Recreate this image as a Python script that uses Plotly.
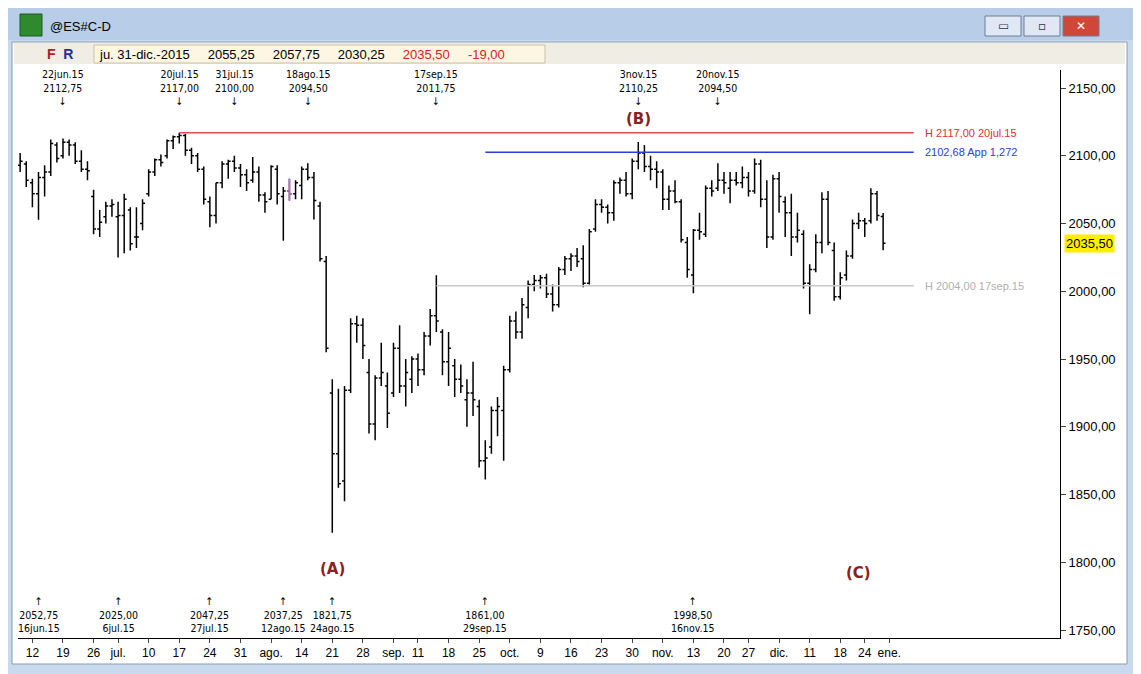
import pandas as pd
import plotly.graph_objects as go

# ES#C daily bars, 10 jun 2015 - 31 dic 2015
opens = [2080,2093,2094,2080,2072,2084,2088,2108,2100,2110,2108,2096,2090,2070,2046,
         2055,2063,2055,2056,2060,2040,2050,2072,2088,2097,2100,2111,2114,2115,2104,2100,2090,2066,2056,2080,2094,2096,
         2091,2086,2082,2088,2071,2068,2090,2070,2074,2072,2078,2090,2084,2063,2022,1925,1880,1860,1927,1976,1975,
         1940,1902,1936,1930,1925,1958,1930,1935,1950,1942,1967,1982,1970,1948,1945,1935,1920,1925,1915,1875,1885,
         1912,1912,1942,1978,1970,1988,2005,2008,2010,1998,1990,2016,2024,2026,2024,2006,2046,2064,2062,2058,2080,2082,
         2072,2096,2102,2092,2090,2088,2068,2074,2066,2036,2012,2045,2042,2076,2076,2082,2076,2082,2080,2084,
         2074,2094,2068,2040,2083,2066,2058,2040,2042,2006,2016,2036,2068,2030,1996,2012,2026,2050,2052,2052,2072,2055.25]
highs = [2097,2102,2096,2083,2088,2093,2112,2110,2112.75,2112,2110,2104,2096,2075,2060,
         2066,2068,2066,2072,2062,2062,2068,2090,2098,2101,2112,2115,2117,2116,2106,2102,2092,2070,2080,2096,2097,2100,
         2094,2090,2099,2092,2073,2093,2093,2077,2083,2082,2092,2094.5,2088,2066,2026,1935,1928,1930,1980,1982,1980,
         1950,1938,1962,1940,1962,1975,1950,1952,1954,1970,1987,2011.75,1972,1970,1950,1946,1935,1948,1920,1890,1915,
         1922,1945,1982,1985,1995,2008,2012,2012,2013,2005,2018,2026,2028,2032,2034,2046,2068,2068,2064,2082,2084,2088,
         2098,2110.25,2108,2100,2096,2090,2078,2082,2068,2040,2046,2058,2078,2082,2094.5,2088,2088,2088,2092,2088,
         2098,2097,2082,2086,2088,2070,2072,2058,2045,2020,2042,2073,2074,2036,2014,2030,2053,2058,2054,2076,2074,2057.75]
lows = [2075,2088,2077,2062,2052.75,2070,2085,2095,2098,2100,2094,2088,2082,2042,2040,
        2050,2055,2025,2028,2030,2032,2045,2070,2085,2092,2098,2105,2109,2100,2094,2088,2064,2047.25,2050,2076,2083,2088,
        2077,2074,2080,2066,2058,2068,2064,2037.25,2067,2068,2068,2082,2053,2022,1955,1821.75,1855,1845,1925,1962,1950,
        1895,1890,1930,1899,1922,1925,1915,1925,1930,1938,1960,1970,1938,1930,1922,1925,1900,1908,1870,1861,1880,
        1893,1875,1940,1965,1965,1980,2000,2002,1995,1985,1988,2012,2015,2018,2003,2005,2044,2058,2050,2052,2072,2070,
        2068,2090,2088,2082,2076,2060,2060,2065,2036,2010,1998.5,2038,2040,2070,2074,2072,2065,2078,2076,2070,
        2072,2062,2032,2038,2058,2040,2026,2036,2002,1983,2014,2028,2034,1993,1994,2008,2024,2046,2040,2050,2052,2030.25]
closes = [2093,2096,2082,2072,2084,2088,2109,2098,2110,2108,2096,2090,2089,2046,2051,
          2063,2064,2056,2068,2035,2040,2065,2088,2097,2095,2111,2114,2115,2104,2100,2090,2068,2056,2080,2094,2096,2091,
          2086,2080,2088,2071,2066,2092,2072,2074,2072,2080,2090,2084,2067,2024,1958,1880,1858,1927,1976,1975,1960,
          1902,1936,1940,1910,1958,1930,1940,1950,1942,1967,1982,1978,1948,1958,1935,1930,1925,1920,1875,1877,1912,
          1915,1942,1978,1970,1990,2005,2008,2010,1998,1990,2016,2024,2026,2022,2006,2044,2064,2062,2058,2080,2082,2072,
          2096,2102,2092,2090,2088,2068,2074,2066,2038,2016,2045,2044,2076,2074,2082,2080,2082,2080,2084,2074,
          2094,2068,2040,2083,2070,2058,2040,2045,2006,2016,2036,2068,2036,1996,2010,2026,2050,2052,2050,2072,2056,2035.5]

holidays = ["2015-07-03", "2015-09-07", "2015-11-26", "2015-12-25"]
dates = pd.bdate_range("2015-06-10", "2015-12-31")
dates = dates[~dates.isin(pd.to_datetime(holidays))]
idx = list(range(len(dates)))

# weekly ticks (Mondays) and their labels
tick_mondays = pd.date_range("2015-06-15", "2016-01-04", freq="7D")
tick_labels = ["12", "19", "26", "jul.", "10", "17", "24", "31", "ago.", "14", "21", "28", "sep.", "11",
               "18", "25", "oct.", "9", "16", "23", "30", "nov.", "13", "20", "27", "dic.", "11", "18", "24", "ene."]
y_ticks = [1750, 1800, 1850, 1900, 1950, 2000, 2050, 2100, 2150]

top_dates = ["2015-06-22", "2015-07-20", "2015-07-31", "2015-08-18", "2015-09-17", "2015-11-03", "2015-11-20"]
top_texts = ["22jun.15<br>2112,75", "20jul.15<br>2117,00", "31jul.15<br>2100,00", "18ago.15<br>2094,50",
             "17sep.15<br>2011,75", "3nov.15<br>2110,25", "20nov.15<br>2094,50"]
bot_dates = ["2015-06-16", "2015-07-06", "2015-07-27", "2015-08-12", "2015-08-24", "2015-09-29", "2015-11-16"]
bot_texts = ["2052,75<br>16jun.15", "2025,00<br>6jul.15", "2047,25<br>27jul.15", "2037,25<br>12ago.15",
             "1821,75<br>24ago.15", "1861,00<br>29sep.15", "1998,50<br>16nov.15"]

levels = [2117.00, 2102.68, 2004.00]
level_start = ["2015-07-20", "2015-09-29", "2015-09-17"]
level_texts = ["H 2117,00 20jul.15", "2102,68 App 1,272", "H 2004,00 17sep.15"]
level_colors = ["#e84a4a", "#2b3fd6", "#c8c8c8"]
level_text_colors = ["#e03030", "#2b3fd6", "#b0b0b0"]

waves = ["(A)", "(B)", "(C)"]
wave_dates = ["2015-08-24", "2015-11-03", "2015-12-24"]
wave_prices = [1795, 2127, 1792]

last_price = closes[-1]
magenta_day = "2015-08-13"

OFF = 8  # page body margin


def pos(d):
    return int(dates.searchsorted(pd.Timestamp(d)))


# screenshot pixel -> paper helpers (plot area is 18..1060 x 70..638 in the screenshot)
def px(x):
    return (x - 18) / 1042


def py(y):
    return (638 - y) / 568


fig = go.Figure()
fig.add_trace(go.Ohlc(x=idx, open=opens, high=highs, low=lows, close=closes,
                      increasing=dict(line=dict(color="black", width=1.5)),
                      decreasing=dict(line=dict(color="black", width=1.5)),
                      tickwidth=0.4, hoverinfo="skip"))
m = pos(magenta_day)
fig.add_trace(go.Ohlc(x=[m], open=[opens[m]], high=[highs[m]], low=[lows[m]], close=[closes[m]],
                      increasing=dict(line=dict(color="#d060d0", width=1.5)),
                      decreasing=dict(line=dict(color="#d060d0", width=1.5)),
                      tickwidth=0.4, hoverinfo="skip"))

shapes = []
ann = []
small = dict(size=10.5, color="black", family="DejaVu Sans Condensed, DejaVu Sans")


def label(x, y, text, font, xanchor="left"):
    ann.append(dict(x=px(x), y=py(y), xref="paper", yref="paper", text=text, showarrow=False,
                    xanchor=xanchor, yanchor="middle", font=font))


# window chrome
shapes.append(dict(type="rect", xref="paper", yref="paper", x0=px(-10), x1=px(1150), y0=py(690), y1=py(-10),
                   fillcolor="#c9d9ee", line=dict(width=0), layer="below"))
shapes.append(dict(type="rect", xref="paper", yref="paper", x0=px(4), x1=px(1137), y0=py(40), y1=py(4),
                   fillcolor="#b7cde8", line=dict(width=0), layer="below"))
shapes.append(dict(type="rect", xref="paper", yref="paper", x0=px(12), x1=px(1127), y0=py(664), y1=py(42),
                   fillcolor="white", line=dict(color="#8a9bb0", width=1), layer="below"))
shapes.append(dict(type="rect", xref="paper", yref="paper", x0=px(14), x1=px(1125), y0=py(64), y1=py(43),
                   fillcolor="#f0ede4", line=dict(width=0), layer="below"))
shapes.append(dict(type="rect", xref="paper", yref="paper", x0=px(94), x1=px(545), y0=py(63), y1=py(45),
                   fillcolor="#fcf6e2", line=dict(color="#c8c0a8", width=1), layer="below"))
shapes.append(dict(type="rect", xref="paper", yref="paper", x0=px(20), x1=px(42), y0=py(36), y1=py(14),
                   fillcolor="#2f8a2f", line=dict(color="#1d5a1d", width=1)))
for bx, col, sym in [(985, "#dfe8f4", "▭"), (1024, "#dfe8f4", "▫"), (1063, "#d0473a", "✕")]:
    shapes.append(dict(type="rect", xref="paper", yref="paper", x0=px(bx), x1=px(bx + 36), y0=py(36), y1=py(16),
                       fillcolor=col, line=dict(color="#6d7f96", width=1)))
    label(bx + 18, 26, sym, dict(size=12, color="white" if col == "#d0473a" else "#334",
                                 family="DejaVu Sans"), "center")
label(48, 26, "@ES#C-D", dict(size=13, color="black", family="Liberation Sans"))
label(45, 54, "<b><span style='color:#b02020'>F</span>  <span style='color:#2030a0'>R</span></b>",
      dict(size=14, family="Liberation Sans"))
label(97, 54, "ju. 31-dic.-2015     2055,25     2057,75     2030,25     "
              "<span style='color:#e02020'>2035,50     -19,00</span>",
      dict(size=13, color="black", family="Liberation Sans"))

# horizontal levels
for lv, st, tx, c, tc in zip(levels, level_start, level_texts, level_colors, level_text_colors):
    shapes.append(dict(type="line", x0=pos(st), x1=147, y0=lv, y1=lv, line=dict(color=c, width=1.5)))
    ann.append(dict(x=148.5, y=lv, text=tx, showarrow=False, xanchor="left",
                    font=dict(size=11, color=tc, family="Liberation Sans")))

for d, t in zip(top_dates, top_texts):
    ann.append(dict(x=pos(d), y=py(88), xref="x", yref="paper", text=t + "<br>↓", showarrow=False,
                    font=small, yanchor="middle"))
for d, t in zip(bot_dates, bot_texts):
    ann.append(dict(x=pos(d), y=py(614), xref="x", yref="paper", text="↑<br>" + t, showarrow=False,
                    font=small, yanchor="middle"))
for w, d, p in zip(waves, wave_dates, wave_prices):
    ann.append(dict(x=pos(d), y=p, text="<b>" + w + "</b>", showarrow=False,
                    font=dict(size=15, color="#8b2020", family="DejaVu Sans")))
ann.append(dict(x=1.0, y=last_price, xref="paper", yref="y", text="2035,50", showarrow=False,
                xanchor="left", xshift=4, bgcolor="#ffee00",
                font=dict(size=13, color="black", family="Liberation Sans"), borderpad=1))

tickvals = [dates.searchsorted(d) for d in tick_mondays]

fig.update_layout(
    width=1141, height=674,
    margin=dict(l=18 - OFF, r=1141 - 1060 + OFF, t=70 - OFF, b=674 - 638 + OFF),
    paper_bgcolor="#c9d9ee", plot_bgcolor="white",
    showlegend=False,
    font=dict(family="Liberation Sans", size=12, color="black"),
    shapes=shapes, annotations=ann,
    xaxis=dict(range=[0.65, 170.9], tickvals=tickvals, ticktext=tick_labels,
               showgrid=False, zeroline=False, rangeslider=dict(visible=False),
               showline=True, linecolor="black", ticks="outside", ticklen=4,
               tickfont=dict(size=12)),
    yaxis=dict(range=[1744.1, 2163.3], side="right", tickvals=y_ticks,
               ticktext=[f"{v:.2f}".replace(".", ",") for v in y_ticks],
               showgrid=False, zeroline=False, showline=True, linecolor="black",
               ticks="outside", ticklen=5, tickfont=dict(size=13)),
)

fig.write_html("out.html")
